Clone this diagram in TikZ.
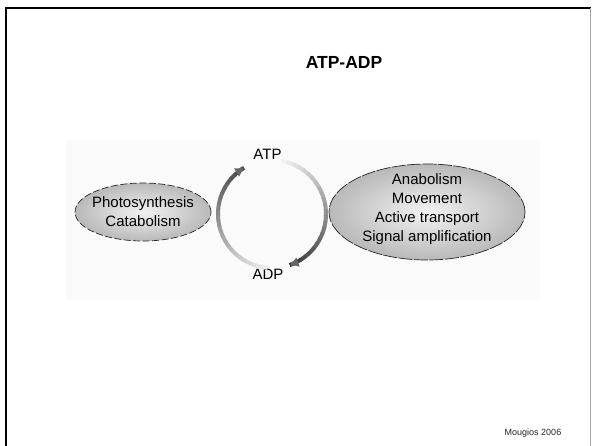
\documentclass[tikz,border=0pt]{standalone}
\usepackage{fontspec}
\setmainfont{Liberation Sans}
\usepackage{tikz}
\usetikzlibrary{shapes.geometric,arrows.meta,calc,positioning}

\tikzset{
    label/.style={font=\fontsize{15}{19}\selectfont, align=center, inner sep=0pt},
    process/.style={ellipse, draw=black!85, line width=0.7pt, inner sep=0pt, shading=radial,
        inner color=gray!10, outer color=gray!55},
    ringtip/.style={-{Triangle[length=8pt,width=9pt]}},
}

\newcommand{\ringarc}[4]{%
    %% #1 start angle, #2 end angle, #3 light shade, #4 dark shade
    \foreach \i in {0,...,23} {
        \pgfmathsetmacro\aa{#1+(#2-#1)*\i/24}
        \pgfmathsetmacro\bb{#1+(#2-#1)*(\i+1.15)/24}
        \pgfmathtruncatemacro\cc{#3+(#4-#3)*\i/23}
        \draw[line width=4pt, color=black!\cc] ($(cyc)+(\aa:54)$) arc[start angle=\aa, end angle=\bb, radius=54];
    }
    \pgfmathsetmacro\aa{#2-1}
    \draw[ringtip, line width=4pt, color=black!60] ($(cyc)+(\aa:54)$) arc[start angle=\aa, end angle=#2, radius=54];
}

\begin{document}
\begin{tikzpicture}[x=1pt, y=-1pt]
    \useasboundingbox (0,0) rectangle (592,445);
    \fill[white] (0,0) rectangle (592,445);
    \fill[gray!4] (66,140) rectangle (540,300);

    %% slide frame
    \draw[line width=2.5pt] (6,450) -- (6,8) -- (590.5,8);
    \draw[line width=1pt, gray!70] (590.5,8) -- (590.5,450);

    \node[font=\bfseries\fontsize{17.5}{21}\selectfont] (title) at (344,62) {ATP-ADP};

    \coordinate (cyc) at (272,214);
    \node[label] (atp) at (267.5,154) {ATP};
    \node[label] (adp) at (268,274) {ADP};

    \ringarc{95}{238}{8}{72}
    \ringarc{-80}{70}{6}{78}

    \node[process, dash pattern=on 7pt off 2.5pt, minimum width=136pt, minimum height=58pt] (source) at (143,212) {};
    \node[label] at (source.center) {Photosynthesis\\Catabolism};

    \node[process, dash pattern=on 14pt off 1.5pt, minimum width=196pt, minimum height=96pt] (sink) at (427,212) {};
    \node[label] at ($(sink.center)+(0,-3)$) {Anabolism\\Movement\\Active transport\\Signal amplification};

    \node[font=\fontsize{9}{11}\selectfont, text=black!85] (ref) at (533,433) {Mougios 2006};
\end{tikzpicture}
\end{document}
